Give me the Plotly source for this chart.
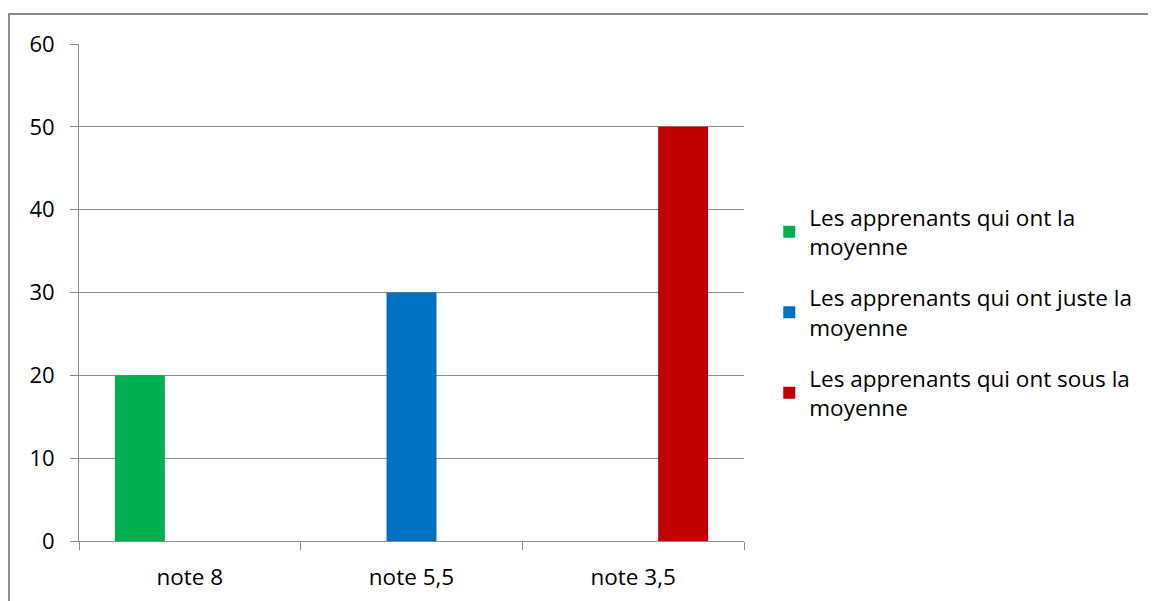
import plotly.graph_objects as go

categories = ["note 8", "note 5,5", "note 3,5"]
series_names = [
    "Les apprenants qui ont la<br>moyenne",
    "Les apprenants qui ont juste la<br>moyenne",
    "Les apprenants qui ont sous la<br>moyenne",
]
green_values = [20, None, None]
blue_values = [None, 30, None]
red_values = [None, None, 50]
y_ticks = [0, 10, 20, 30, 40, 50, 60]

colors = ["#00B050", "#0070C0", "#C00000"]
FONT = "Open Sans"
GRID = "#8C8C8C"

fig = go.Figure()
for i, (name, vals) in enumerate(zip(series_names, [green_values, blue_values, red_values])):
    fig.add_trace(go.Bar(
        x=categories, y=vals, name=name,
        marker=dict(color=colors[i], line=dict(width=0)),
        legendgroup=f"g{i}",
    ))

fig.update_layout(
    width=1148, height=593,
    margin=dict(l=71, r=412, t=36, b=60, autoexpand=False),
    paper_bgcolor="white", plot_bgcolor="white",
    barmode="group", bargap=0.324, bargroupgap=0,
    font=dict(family=FONT, size=22.5, color="#000000"),
    legend=dict(
        x=1.038, xanchor="left", y=0.46, yanchor="middle",
        font=dict(family=FONT, size=22.5, color="#000000"),
        traceorder="grouped", tracegroupgap=19,
        bgcolor="rgba(0,0,0,0)",
    ),
    showlegend=True,
)
fig.update_yaxes(
    range=[0, 60], tickvals=y_ticks, showgrid=True, gridcolor=GRID, gridwidth=1,
    showline=True, linecolor=GRID, linewidth=1,
    ticks="outside", ticklen=8, tickcolor=GRID, ticklabelstandoff=11,
    tickfont=dict(size=22), automargin=False,
    zeroline=False, fixedrange=True,
)
fig.update_xaxes(
    showline=True, linecolor=GRID, linewidth=1,
    ticks="outside", ticklen=8, tickcolor=GRID, tickson="boundaries",
    ticklabelstandoff=16, showgrid=False, automargin=False,
)
# outer chart border (left and top edges visible in the reference)
fig.add_shape(type="path", xref="paper", yref="paper",
              path="M -0.1053,-0.3 L -0.1053,1.0604 L 1.8,1.0604",
              line=dict(color="#8C8C8C", width=2))

fig.write_html("out.html", config={"displayModeBar": False})
